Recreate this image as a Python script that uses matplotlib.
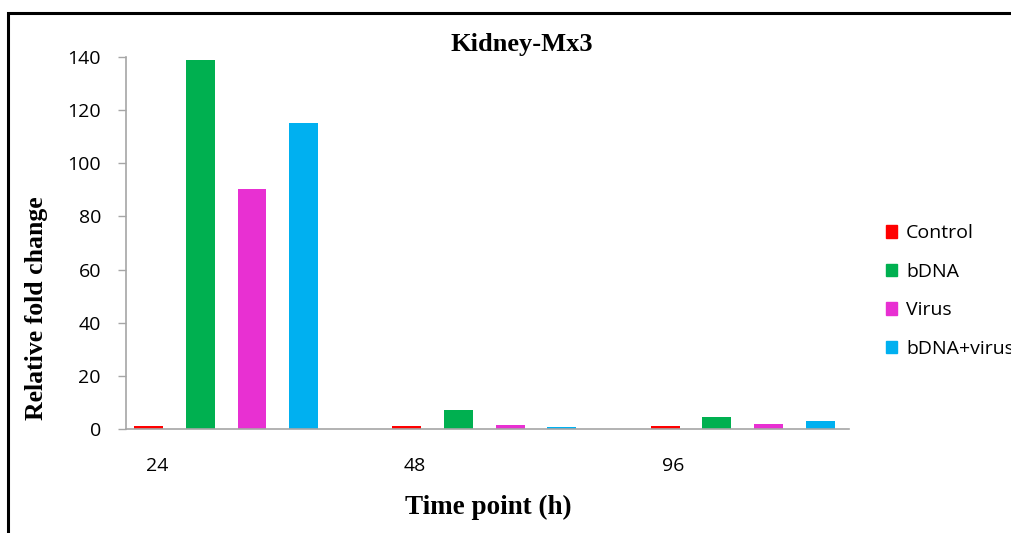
import numpy as np
import matplotlib.pyplot as plt
from matplotlib.patches import Rectangle, Patch

# data
time_points = ["24", "48", "96"]
series = ["Control", "bDNA", "Virus", "bDNA+virus"]
control = [1.0, 1.0, 1.0]
bdna = [139.0, 7.2, 4.5]
virus = [90.5, 1.6, 2.0]
bdna_virus = [115.0, 0.8, 3.0]

colors = ["#FF0000", "#00B050", "#E830D2", "#00B0F0"]

W, H = 1011, 533
fig = plt.figure(figsize=(W / 100, H / 100), dpi=100)
ax = fig.add_axes([0.1246, 0.1951, 0.7152, 0.698])

# each group takes 4 slots plus an empty slot between groups
values = [control, bdna, virus, bdna_virus]
for s, (name, vals, c) in enumerate(zip(series, values, colors)):
    xs = [g * 5 + s for g in range(len(time_points))]
    ax.bar(np.array(xs) - 0.06, vals, width=0.56, color=c, label=name)

ax.set_xlim(-0.5, 13.5)
ax.set_ylim(0, 140)
ax.set_yticks(range(0, 141, 20))
ax.set_xticks([0.1, 5.1, 10.1])
ax.set_xticklabels(time_points)

for side in ["top", "right"]:
    ax.spines[side].set_visible(False)
for side in ["left", "bottom"]:
    ax.spines[side].set_color("#A6A6A6")
    ax.spines[side].set_linewidth(1.2)
ax.tick_params(axis="y", colors="#A6A6A6", length=6, width=1.0,
               labelcolor="black", labelsize=14, pad=12)
ax.tick_params(axis="x", length=0, labelsize=14, pad=20)
for lab in ax.get_xticklabels() + ax.get_yticklabels():
    lab.set_fontfamily("Open Sans")

serif = ["Liberation Serif", "DejaVu Serif"]
fig.text(522 / W, 1 - 45 / H, "Kidney-Mx3", fontsize=19, fontweight="bold",
         family=serif, ha="center", va="center")
fig.text(37 / W, 1 - 308 / H, "Relative fold change", fontsize=18.5,
         fontweight="bold", family=serif, ha="center", va="center",
         rotation=90)
fig.text(488 / W, 1 - 507 / H, "Time point (h)", fontsize=19.5,
         fontweight="bold", family=serif, ha="center", va="center")

handles = [Patch(color=c) for c in colors]
fig.legend(handles, series, loc="upper left", bbox_to_anchor=(0.876, 0.579),
           frameon=False, handlelength=0.6, handleheight=0.6, handletextpad=0.45,
           labelspacing=1.05, borderaxespad=0, borderpad=0,
           prop={"family": "Open Sans", "size": 14})

# outer frame, running off the right and bottom edges
fig.add_artist(Rectangle((8 / W, -0.1), 1.1, 1 - 13 / H + 0.1,
                         transform=fig.transFigure, fill=False,
                         edgecolor="black", linewidth=2.2))

fig.savefig("out.png", dpi=100)
